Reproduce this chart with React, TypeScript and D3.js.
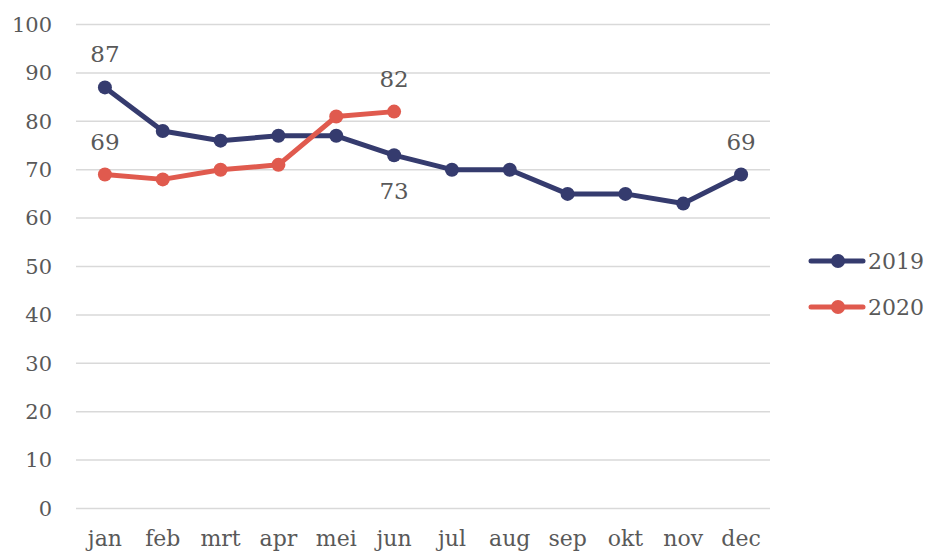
import { useEffect, useRef } from 'react'
import * as d3 from 'd3'

const MONTHS = ['jan', 'feb', 'mrt', 'apr', 'mei', 'jun', 'jul', 'aug', 'sep', 'okt', 'nov', 'dec']
const VALUES_2019 = [87, 78, 76, 77, 77, 73, 70, 70, 65, 65, 63, 69]
const VALUES_2020 = [69, 68, 70, 71, 81, 82]
const Y_TICKS = [0, 10, 20, 30, 40, 50, 60, 70, 80, 90, 100]

const SERIES = [
  { label: '2019', color: '#353b6e', values: VALUES_2019 },
  { label: '2020', color: '#e05a4e', values: VALUES_2020 },
]

// data labels: series index, month index, above/below
const DATA_LABELS = [
  { s: 0, i: 0, pos: 'above' },
  { s: 1, i: 0, pos: 'above' },
  { s: 1, i: 5, pos: 'above' },
  { s: 0, i: 5, pos: 'below' },
  { s: 0, i: 11, pos: 'above' },
]

const WIDTH = 929
const HEIGHT = 553
const PLOT = { left: 76, right: 770, top: 24.5, bottom: 508.5 }
const FONT = '"DejaVu Serif", serif'
const TEXT_COLOR = '#595959'

export default function App() {
  const svgRef = useRef<SVGSVGElement>(null)

  useEffect(() => {
    const svg = d3.select(svgRef.current)
    svg.selectAll('*').remove()

    const x = d3.scaleBand<string>(MONTHS, [PLOT.left, PLOT.right])
    const y = d3.scaleLinear([0, 100], [PLOT.bottom, PLOT.top])
    const cx = (i: number) => x(MONTHS[i])! + x.bandwidth() / 2

    // ── Grid ──────────────────────────────────────────────
    svg.append('g')
      .selectAll('line')
      .data(Y_TICKS)
      .join('line')
      .attr('x1', PLOT.left).attr('x2', PLOT.right)
      .attr('y1', d => y(d)).attr('y2', d => y(d))
      .attr('stroke', '#d9d9d9').attr('stroke-width', 1.5)

    // ── Axis labels ───────────────────────────────────────
    svg.append('g')
      .selectAll('text')
      .data(Y_TICKS)
      .join('text')
      .attr('x', 52).attr('y', d => y(d))
      .attr('dy', '0.35em').attr('text-anchor', 'end')
      .attr('font-family', FONT).attr('font-size', 21).attr('fill', TEXT_COLOR)
      .text(d => d)

    svg.append('g')
      .selectAll('text')
      .data(MONTHS)
      .join('text')
      .attr('x', (_, i) => cx(i)).attr('y', 538)
      .attr('dy', '0.35em').attr('text-anchor', 'middle')
      .attr('font-family', FONT).attr('font-size', 22).attr('fill', TEXT_COLOR)
      .text(d => d)

    // ── Lines + markers ───────────────────────────────────
    const line = d3.line<number>().x((_, i) => cx(i)).y(d => y(d))
    SERIES.forEach(s => {
      svg.append('path')
        .attr('d', line(s.values) ?? '')
        .attr('fill', 'none').attr('stroke', s.color)
        .attr('stroke-width', 5).attr('stroke-linejoin', 'round').attr('stroke-linecap', 'round')
      svg.append('g')
        .selectAll('circle')
        .data(s.values)
        .join('circle')
        .attr('cx', (_, i) => cx(i)).attr('cy', d => y(d))
        .attr('r', 7).attr('fill', s.color)
    })

    // ── Data labels ───────────────────────────────────────
    DATA_LABELS.forEach(l => {
      const v = SERIES[l.s].values[l.i]
      svg.append('text')
        .attr('x', cx(l.i))
        .attr('y', y(v) + (l.pos === 'above' ? -33 : 36))
        .attr('dy', '0.35em').attr('text-anchor', 'middle')
        .attr('font-family', FONT).attr('font-size', 23).attr('fill', TEXT_COLOR)
        .text(v)
    })

    // ── Legend ────────────────────────────────────────────
    SERIES.forEach((s, i) => {
      const ly = 261 + i * 46
      svg.append('line')
        .attr('x1', 811).attr('x2', 863).attr('y1', ly).attr('y2', ly)
        .attr('stroke', s.color).attr('stroke-width', 5).attr('stroke-linecap', 'round')
      svg.append('circle')
        .attr('cx', 838).attr('cy', ly).attr('r', 7).attr('fill', s.color)
      svg.append('text')
        .attr('x', 868).attr('y', ly).attr('dy', '0.35em')
        .attr('font-family', FONT).attr('font-size', 22).attr('fill', TEXT_COLOR)
        .text(s.label)
    })
  }, [])

  return (
    <svg
      ref={svgRef}
      width={WIDTH}
      height={HEIGHT}
      style={{ position: 'absolute', left: 0, top: 0, background: '#fff' }}
    />
  )
}
